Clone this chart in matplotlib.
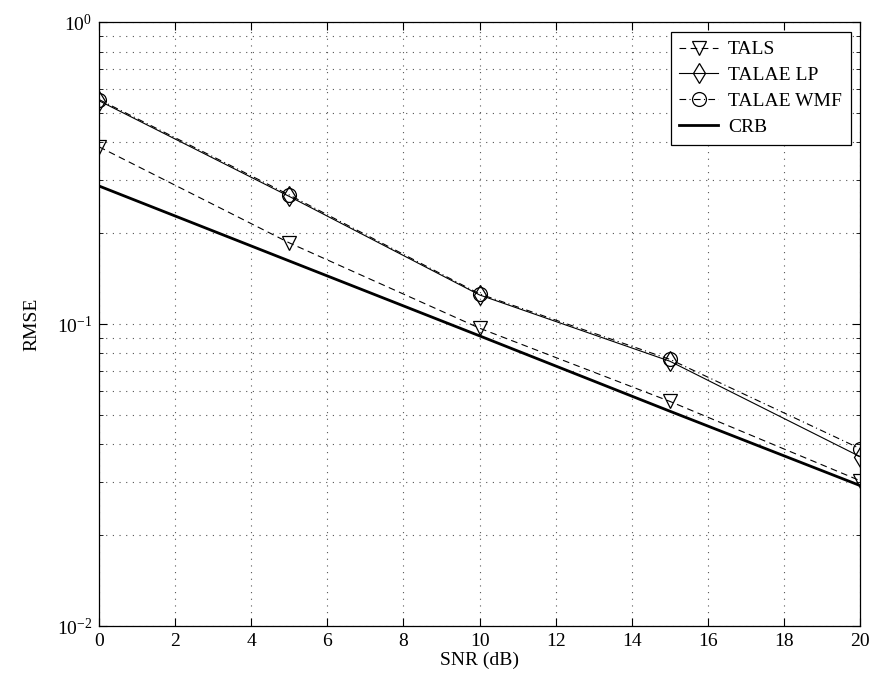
import numpy as np
import matplotlib
matplotlib.use('Agg')
import matplotlib.pyplot as plt
from matplotlib.ticker import LogLocator, NullFormatter, FixedLocator

# data
snr = [0, 5, 10, 15, 20]
tals = [0.387, 0.186, 0.097, 0.0555, 0.0303]
talae_lp = [0.550, 0.265, 0.125, 0.0754, 0.0364]
talae_wmf = [0.555, 0.268, 0.126, 0.0765, 0.0387]
crb = [0.287, 0.162, 0.0915, 0.0515, 0.0292]

plt.rcParams['font.family'] = ['Liberation Serif', 'DejaVu Serif']
plt.rcParams['mathtext.fontset'] = 'custom'
plt.rcParams['mathtext.rm'] = 'Liberation Serif'
plt.rcParams['mathtext.it'] = 'Liberation Serif:italic'
plt.rcParams['mathtext.bf'] = 'Liberation Serif:bold'
plt.rcParams['font.size'] = 14

fig = plt.figure(figsize=(8.76, 6.98), dpi=100)
ax = fig.add_axes([0.113, 0.103, 0.869, 0.865])

mk = dict(markerfacecolor='none', markeredgecolor='black', markersize=10, markeredgewidth=0.9)
ax.semilogy(snr, tals, color='black', linestyle=(0, (6, 4)), linewidth=0.8, marker='v', label='TALS', **mk)
ax.semilogy(snr, talae_lp, color='black', linestyle='-', linewidth=0.8, marker='d', label='TALAE LP', **mk)
ax.semilogy(snr, talae_wmf, color='black', linestyle=(0, (6, 3, 1, 3)), linewidth=0.8, marker='o', label='TALAE WMF', **mk)
ax.semilogy(snr, crb, color='black', linestyle='-', linewidth=2.0, label='CRB')

ax.set_xlim(0, 20)
ax.set_ylim(1e-2, 1e0)
ax.set_xticks(np.arange(0, 21, 2))
ax.yaxis.set_major_locator(FixedLocator([1e-2, 1e-1, 1e0]))
ax.set_yticklabels([r'$10^{-2}$', r'$10^{-1}$', r'$10^{0}$'])
ax.yaxis.set_minor_locator(LogLocator(base=10, subs=np.arange(2, 10)))
ax.yaxis.set_minor_formatter(NullFormatter())

ax.grid(True, which='major', linestyle=(0, (1, 5)), color='#555555', linewidth=0.8)
ax.grid(True, which='minor', axis='y', linestyle=(0, (1, 5)), color='#555555', linewidth=0.8)
ax.tick_params(which='both', direction='in', top=True, right=True)
ax.tick_params(which='major', length=6, labelsize=14, pad=5)
ax.tick_params(which='minor', length=3)
for s in ax.spines.values():
    s.set_linewidth(0.9)

ax.set_xlabel('SNR (dB)', fontsize=14, labelpad=1)
ax.set_ylabel('RMSE', fontsize=14, labelpad=12)

leg = ax.legend(loc='upper right', fontsize=14, fancybox=False, framealpha=1,
                edgecolor='black', borderaxespad=0.5, handlelength=2.0,
                handletextpad=0.5, labelspacing=0.42, borderpad=0.45)
leg.get_frame().set_linewidth(0.9)

fig.savefig('out.png', dpi=100)
